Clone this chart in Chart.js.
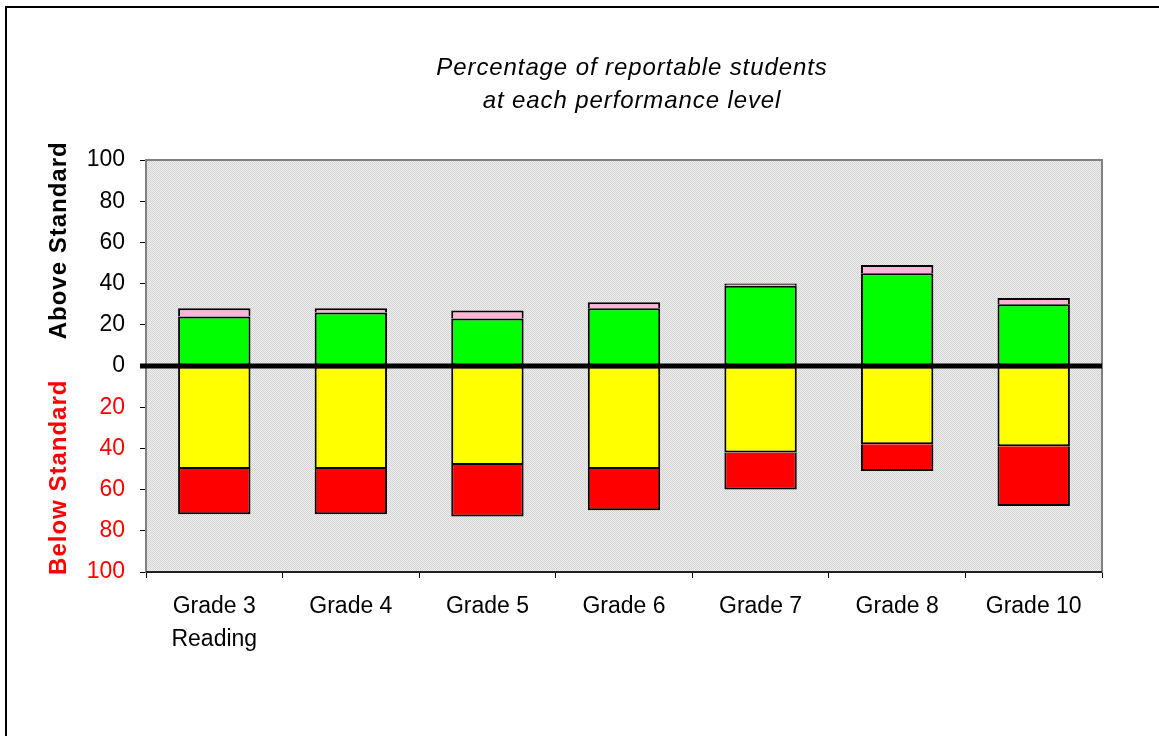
<!DOCTYPE html>
<html>
<head>
<meta charset="utf-8">
<script src="https://cdn.jsdelivr.net/npm/chart.js@4.4.0/dist/chart.umd.min.js"></script>
<style>
  html, body { margin: 0; padding: 0; background: #fff; overflow: hidden; }
</style>
</head>
<body>
<canvas id="perfChart" width="1159" height="736"></canvas>
<script>
// Percent of students per performance level
const grades = [['Grade 3', 'Reading'], 'Grade 4', 'Grade 5', 'Grade 6', 'Grade 7', 'Grade 8', 'Grade 10'];
const meetsStd = [24, 26, 23, 28, 39, 45, 30];     // green, above zero
const exceedsStd = [4, 2, 4, 3, 1, 4, 3];          // pink, on top of green
const belowStd = [50, 50, 48, 50, 42, 38, 39];     // yellow, below zero
const wellBelowStd = [22, 22, 25, 20, 18, 13, 29]; // red, under yellow

const FONT = "'Liberation Sans', Arial, sans-serif";

// small dotted grey fill like the old spreadsheet plot area
function makePattern(ctx) {
    const c = document.createElement('canvas');
    c.width = 2; c.height = 2;
    const p = c.getContext('2d');
    p.fillStyle = '#eeeeee';
    p.fillRect(0, 0, 2, 2);
    p.fillStyle = '#d4d4d4';
    p.fillRect(0, 0, 1, 1);
    p.fillRect(1, 1, 1, 1);
    return ctx.createPattern(c, 'repeat');
}

const decorations = {
    id: 'decorations',
    beforeDraw(chart) {
        const { ctx, chartArea: a } = chart;
        ctx.save();
        ctx.fillStyle = '#fff';
        ctx.fillRect(0, 0, chart.width, chart.height);
        // outer frame
        ctx.strokeStyle = '#000';
        ctx.lineWidth = 2;
        ctx.strokeRect(6, 7, chart.width + 20, chart.height + 20);
        // plot background
        ctx.fillStyle = makePattern(ctx);
        ctx.fillRect(a.left, a.top, a.right - a.left, a.bottom - a.top);
        ctx.restore();
    },
    beforeDatasetsDraw(chart) {
        const { ctx, chartArea: a } = chart;
        ctx.save();
        ctx.strokeStyle = '#808080';
        ctx.lineWidth = 2;
        ctx.strokeRect(a.left, a.top, a.right - a.left, a.bottom - a.top);
        ctx.strokeStyle = '#222';
        ctx.beginPath();
        ctx.moveTo(a.left, a.bottom);
        ctx.lineTo(a.right, a.bottom);
        ctx.stroke();
        ctx.restore();
    },
    afterDatasetsDraw(chart) {
        const { ctx, chartArea: a, scales } = chart;
        const y0 = scales.y.getPixelForValue(0);
        ctx.save();
        ctx.strokeStyle = '#000';
        ctx.lineWidth = 5;
        ctx.beginPath();
        ctx.moveTo(a.left - 6, y0);
        ctx.lineTo(a.right, y0);
        ctx.stroke();
        ctx.restore();
    },
    afterDraw(chart) {
        const { ctx, chartArea: a, scales } = chart;
        const cx = (a.left + a.right) / 2 + 8;
        ctx.save();
        ctx.textAlign = 'center';
        ctx.textBaseline = 'middle';
        ctx.fillStyle = '#000';
        ctx.font = 'italic 24px ' + FONT;
        ctx.letterSpacing = '0.9px';
        ctx.fillText('Percentage of reportable students', cx, 68);
        ctx.fillText('at each performance level', cx, 101);

        ctx.font = 'bold 24px ' + FONT;
        ctx.letterSpacing = '1px';
        const drawSide = (text, color, yVal) => {
            ctx.save();
            ctx.translate(59, scales.y.getPixelForValue(yVal));
            ctx.rotate(-Math.PI / 2);
            ctx.fillStyle = color;
            ctx.fillText(text, 0, 0);
            ctx.restore();
        };
        drawSide('Above Standard', '#000', 61);
        drawSide('Below Standard', '#ff0000', -54);
        ctx.restore();
    }
};

const barStyle = {
    borderColor: '#000',
    borderWidth: 2,
    borderSkipped: false,
    categoryPercentage: 1,
    barPercentage: 0.53
};

new Chart(document.getElementById('perfChart'), {
    type: 'bar',
    data: {
        labels: grades,
        datasets: [
            { label: 'Meets', data: meetsStd, backgroundColor: '#00ff00', ...barStyle },
            { label: 'Exceeds', data: exceedsStd, backgroundColor: '#ffb4d8', ...barStyle, borderSkipped: 'start' },
            { label: 'Below', data: belowStd.map(v => -v), backgroundColor: '#ffff00', ...barStyle },
            { label: 'Well below', data: wellBelowStd.map(v => -v), backgroundColor: '#ff0000', ...barStyle, borderSkipped: 'start' }
        ]
    },
    options: {
        responsive: false,
        animation: false,
        devicePixelRatio: 1,
        layout: { padding: { top: 160, right: 57, bottom: 0, left: 0 } },
        plugins: {
            legend: { display: false },
            tooltip: { enabled: false },
            title: { display: false }
        },
        scales: {
            x: {
                stacked: true,
                border: { display: false },
                grid: { drawOnChartArea: false, drawTicks: true, tickLength: 6, color: '#000', offset: true },
                ticks: {
                    color: '#000',
                    padding: 12,
                    maxRotation: 0,
                    autoSkip: false,
                    font: { family: FONT, size: 23, lineHeight: 1.43 }
                },
                afterFit(scale) { scale.height = 164; }
            },
            y: {
                stacked: true,
                min: -100,
                max: 100,
                border: { display: false },
                grid: { drawOnChartArea: false, drawTicks: true, tickLength: 6, color: '#000' },
                ticks: {
                    stepSize: 20,
                    padding: 15,
                    font: { family: FONT, size: 23 },
                    color: c => (c.tick && c.tick.value < 0 ? '#ff0000' : '#000'),
                    callback: v => Math.abs(v)
                },
                afterFit(scale) { scale.width = 146; }
            }
        }
    },
    plugins: [decorations]
});
</script>
</body>
</html>
